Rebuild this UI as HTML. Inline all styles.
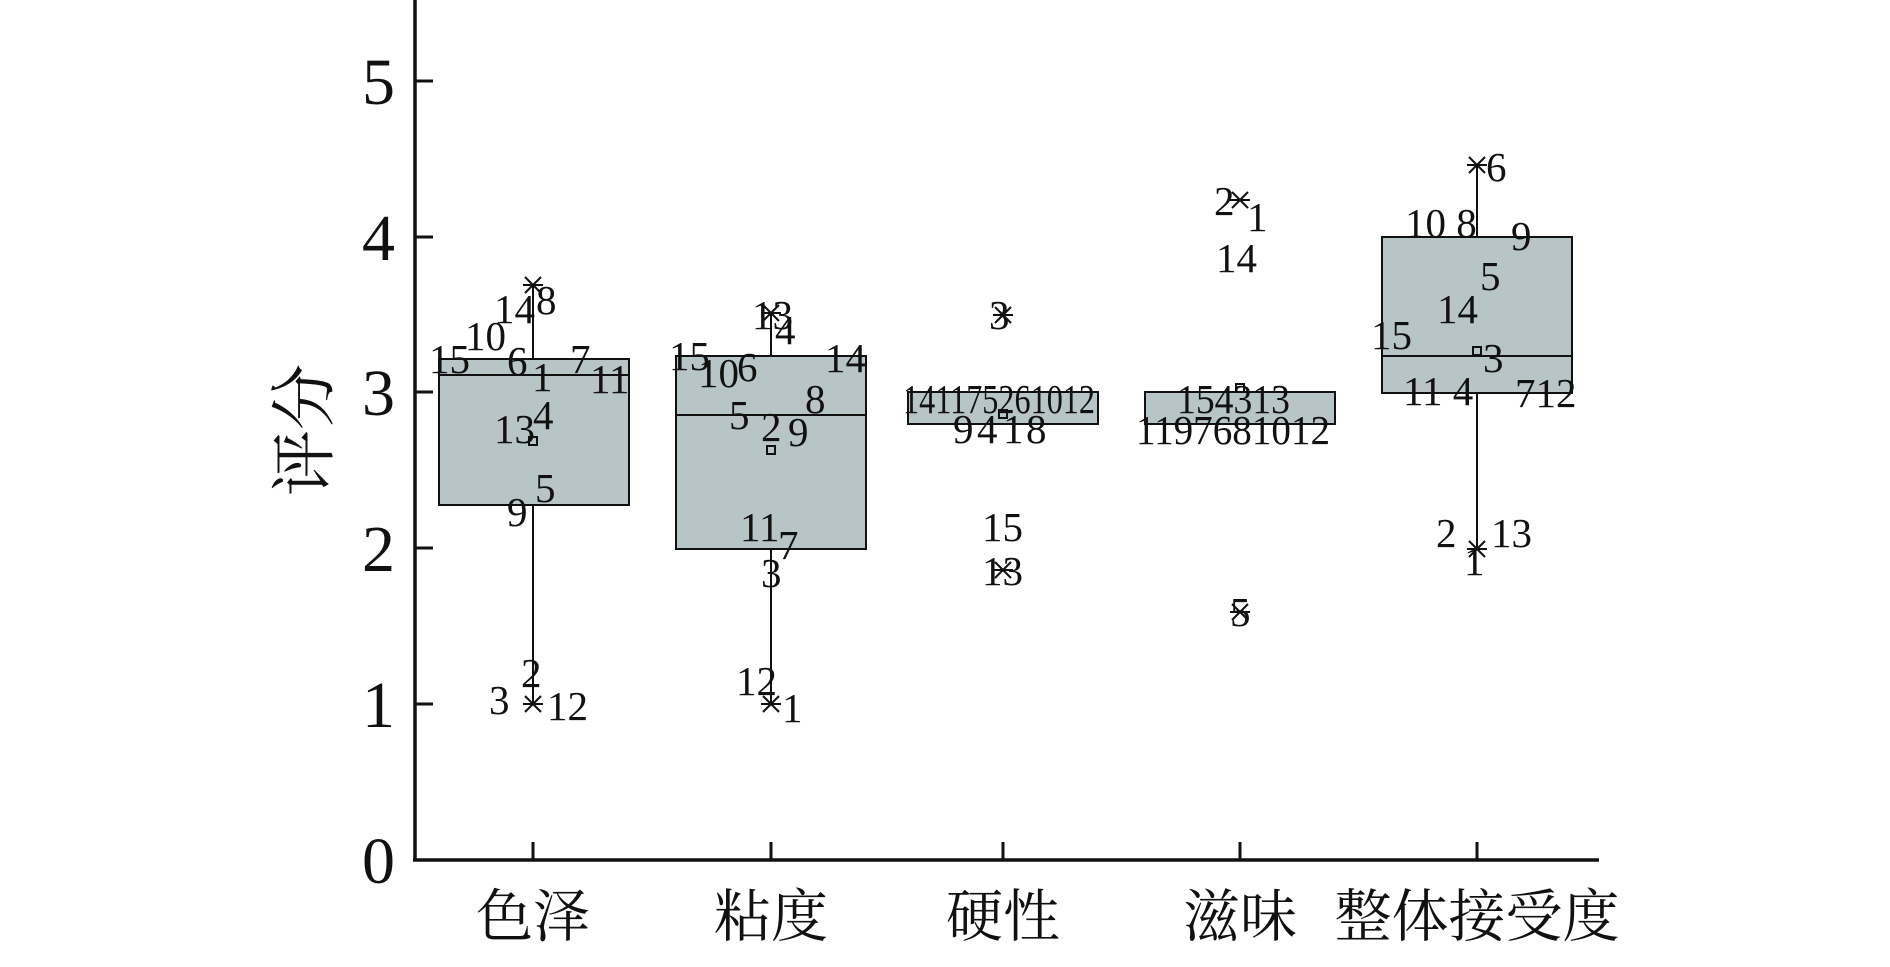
<!DOCTYPE html>
<html><head><meta charset="utf-8"><style>
html,body{margin:0;padding:0;background:#fff;}
svg{display:block;}
.l{font-family:"Liberation Serif",serif;font-size:41px;fill:#111;}
.t{font-family:"Liberation Serif",serif;font-size:66px;fill:#111;}
.c{font-family:"Liberation Serif","Noto Serif CJK SC",serif;font-size:57px;fill:#111;}
</style></head><body>
<svg width="1890" height="967" viewBox="0 0 1890 967" xmlns="http://www.w3.org/2000/svg">
<defs>
<g id="x"><line x1="-8" y1="-8" x2="8" y2="8" stroke="#111" stroke-width="2"/><line x1="-8" y1="8" x2="8" y2="-8" stroke="#111" stroke-width="2"/><line x1="-10" y1="0" x2="10" y2="0" stroke="#111" stroke-width="2"/></g>
</defs>
<line x1="415" y1="0" x2="415" y2="861" stroke="#111" stroke-width="3.5"/>
<line x1="413" y1="860" x2="1599" y2="860" stroke="#111" stroke-width="3.5"/>
<g stroke="#111" stroke-width="3">
<line x1="415" y1="860" x2="433" y2="860"/>
<line x1="415" y1="704" x2="433" y2="704"/>
<line x1="415" y1="548" x2="433" y2="548"/>
<line x1="415" y1="392" x2="433" y2="392"/>
<line x1="415" y1="237" x2="433" y2="237"/>
<line x1="415" y1="81" x2="433" y2="81"/>
<line x1="533" y1="860" x2="533" y2="842"/>
<line x1="771" y1="860" x2="771" y2="842"/>
<line x1="1003" y1="860" x2="1003" y2="842"/>
<line x1="1240" y1="860" x2="1240" y2="842"/>
<line x1="1477" y1="860" x2="1477" y2="842"/>
</g>
<g class="t" text-anchor="end">
<text x="395" y="883">0</text>
<text x="395" y="727">1</text>
<text x="395" y="571">2</text>
<text x="395" y="415">3</text>
<text x="395" y="260">4</text>
<text x="395" y="104">5</text>
</g>
<text class="c" transform="translate(327,430) rotate(-90)" text-anchor="middle" style="font-size:66px">评分</text>
<g class="c" text-anchor="middle">
<text x="533" y="936">色泽</text>
<text x="771" y="936">粘度</text>
<text x="1003" y="936">硬性</text>
<text x="1240" y="936">滋味</text>
<text x="1477" y="936">整体接受度</text>
</g>
<g stroke="#111" stroke-width="2" fill="#b8c5c7">
<line x1="533" y1="285" x2="533" y2="704"/>
<rect x="439" y="359" width="190" height="146"/>
<line x1="439" y1="375" x2="629" y2="375"/>
<line x1="771" y1="313" x2="771" y2="704"/>
<rect x="676" y="356" width="190" height="193"/>
<line x1="676" y1="415" x2="866" y2="415"/>
<rect x="908" y="392" width="190" height="32"/>
<rect x="1145" y="392" width="190" height="32"/>
<line x1="1477" y1="165" x2="1477" y2="549"/>
<rect x="1382" y="237" width="190" height="156"/>
<line x1="1382" y1="356" x2="1572" y2="356"/>
</g>
<g fill="none" stroke="#111" stroke-width="2">
<rect x="529" y="437" width="8" height="8"/>
<rect x="767" y="446" width="8" height="8"/>
<rect x="999" y="410" width="8" height="8"/>
<rect x="1236" y="384" width="8" height="8"/>
<rect x="1473" y="347" width="8" height="8"/>
</g>
<use href="#x" x="533" y="285"/><use href="#x" x="533" y="704"/>
<use href="#x" x="771" y="313"/><use href="#x" x="771" y="704"/>
<use href="#x" x="1003" y="315"/><use href="#x" x="1003" y="570"/>
<use href="#x" x="1240" y="200"/><use href="#x" x="1240" y="612"/>
<use href="#x" x="1477" y="165"/><use href="#x" x="1477" y="549"/>
<g class="l">
<text x="494" y="323">14</text><text x="536" y="314">8</text><text x="465" y="350">10</text>
<text x="429" y="373">15</text><text x="507" y="375">6</text><text x="570" y="373">7</text>
<text x="532" y="391">1</text><text x="590" y="393">11</text><text x="494" y="443">13</text>
<text x="533" y="429">4</text><text x="535" y="502">5</text><text x="507" y="526">9</text>
<text x="521" y="687">2</text><text x="489" y="714">3</text><text x="547" y="720">12</text>

<text x="752" y="329">13</text><text x="775" y="344">4</text><text x="669" y="370">15</text>
<text x="698" y="387">10</text><text x="737" y="381">6</text><text x="825" y="372">14</text>
<text x="805" y="413">8</text><text x="729" y="429">5</text><text x="761" y="441">2</text>
<text x="788" y="446">9</text><text x="740" y="541">11</text><text x="778" y="559">7</text>
<text x="761" y="587">3</text><text x="736" y="695">12</text><text x="782" y="722">1</text>

<text x="903" y="413" textLength="192" lengthAdjust="spacingAndGlyphs">141175261012</text>
<text x="953" y="443">9</text><text x="977" y="443">4</text><text x="1003" y="443">1</text><text x="1026" y="443">8</text>
<text x="989" y="329">3</text><text x="982" y="541">15</text><text x="982" y="585">13</text>

<text x="1214" y="215">2</text><text x="1247" y="231">1</text><text x="1216" y="272">14</text>
<text x="1177" y="413" textLength="113" lengthAdjust="spacingAndGlyphs">154313</text>
<text x="1136" y="444" textLength="194" lengthAdjust="spacingAndGlyphs">1197681012</text>
<text x="1230" y="626">5</text>

<text x="1486" y="181">6</text><text x="1405" y="237">10 8</text><text x="1511" y="250">9</text>
<text x="1480" y="290">5</text><text x="1437" y="323">14</text><text x="1371" y="349">15</text>
<text x="1483" y="372">3</text><text x="1403" y="405">11 4</text><text x="1515" y="407">712</text>
<text x="1436" y="547">2</text><text x="1491" y="547">13</text><text x="1464" y="575">1</text>
</g>
</svg>
</body></html>
